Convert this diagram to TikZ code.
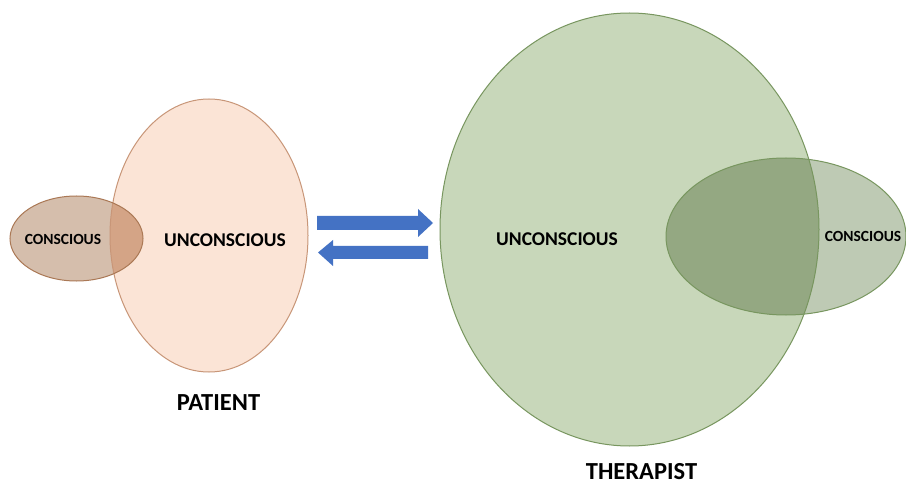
\documentclass[tikz,border=0pt]{standalone}
\usepackage{fontspec}
\setmainfont{Carlito}
\begin{document}
\begin{tikzpicture}[x=1pt,y=-1pt,
  lbl/.style={font=\bfseries\fontsize{#1}{#1}\selectfont, text=black, inner sep=0pt},
  arr/.style={fill=arrowblue, draw=none}]
\definecolor{peach}{RGB}{251,228,214}
\definecolor{peachline}{RGB}{200,150,120}
\definecolor{brownout}{RGB}{213,190,172}
\definecolor{brownover}{RGB}{212,164,134}
\definecolor{brownline}{RGB}{170,120,85}
\definecolor{lgreen}{RGB}{200,215,186}
\definecolor{greenline}{RGB}{120,150,95}
\definecolor{gout}{RGB}{190,202,180}
\definecolor{gover}{RGB}{148,168,130}
\definecolor{arrowblue}{RGB}{68,114,196}
\useasboundingbox (0,0) rectangle (906,484);
\fill[white] (0,0) rectangle (906,484);
% patient
\coordinate (pu) at (209,235.5);
\coordinate (pc) at (76.5,238.5);
\fill[brownout] (pc) ellipse [x radius=66.5, y radius=42.5];
\fill[peach] (pu) ellipse [x radius=99, y radius=136.5];
\begin{scope}
\clip (pu) ellipse [x radius=99, y radius=136.5];
\fill[brownover] (pc) ellipse [x radius=66.5, y radius=42.5];
\end{scope}
\draw[peachline, line width=1pt] (pu) ellipse [x radius=99, y radius=136.5];
\draw[brownline, line width=1pt] (pc) ellipse [x radius=66.5, y radius=42.5];
% therapist
\coordinate (tu) at (629.5,229.5);
\coordinate (tc) at (786,236.5);
\fill[lgreen] (tu) ellipse [x radius=189.5, y radius=216.5];
\fill[gout] (tc) ellipse [x radius=120, y radius=78.5];
\begin{scope}
\clip (tu) ellipse [x radius=189.5, y radius=216.5];
\fill[gover] (tc) ellipse [x radius=120, y radius=78.5];
\end{scope}
\draw[greenline, line width=1pt] (tu) ellipse [x radius=189.5, y radius=216.5];
\draw[greenline, line width=1pt] (tc) ellipse [x radius=120, y radius=78.5];
% labels
\node[lbl=15.5] (pcl) at (63,239.5) {CONSCIOUS};
\node[lbl=19.5] (pul) at (225,240.5) {UNCONSCIOUS};
\node[lbl=19.5] (tul) at (557,239.5) {UNCONSCIOUS};
\node[lbl=15.5] (tcl) at (863,236.5) {CONSCIOUS};
\node[lbl=24.5] (pl) at (218.5,403) {PATIENT};
\node[lbl=24.5] (tl) at (641.5,471.5) {THERAPIST};
% arrows
\fill[arr] (317,216) -- (418,216) -- (418,209) -- (433,223) -- (418,237) -- (418,230) -- (317,230) -- cycle;
\fill[arr] (428,246) -- (333,246) -- (333,240) -- (318,252.5) -- (333,266) -- (333,259) -- (428,259) -- cycle;
\end{tikzpicture}
\end{document}
